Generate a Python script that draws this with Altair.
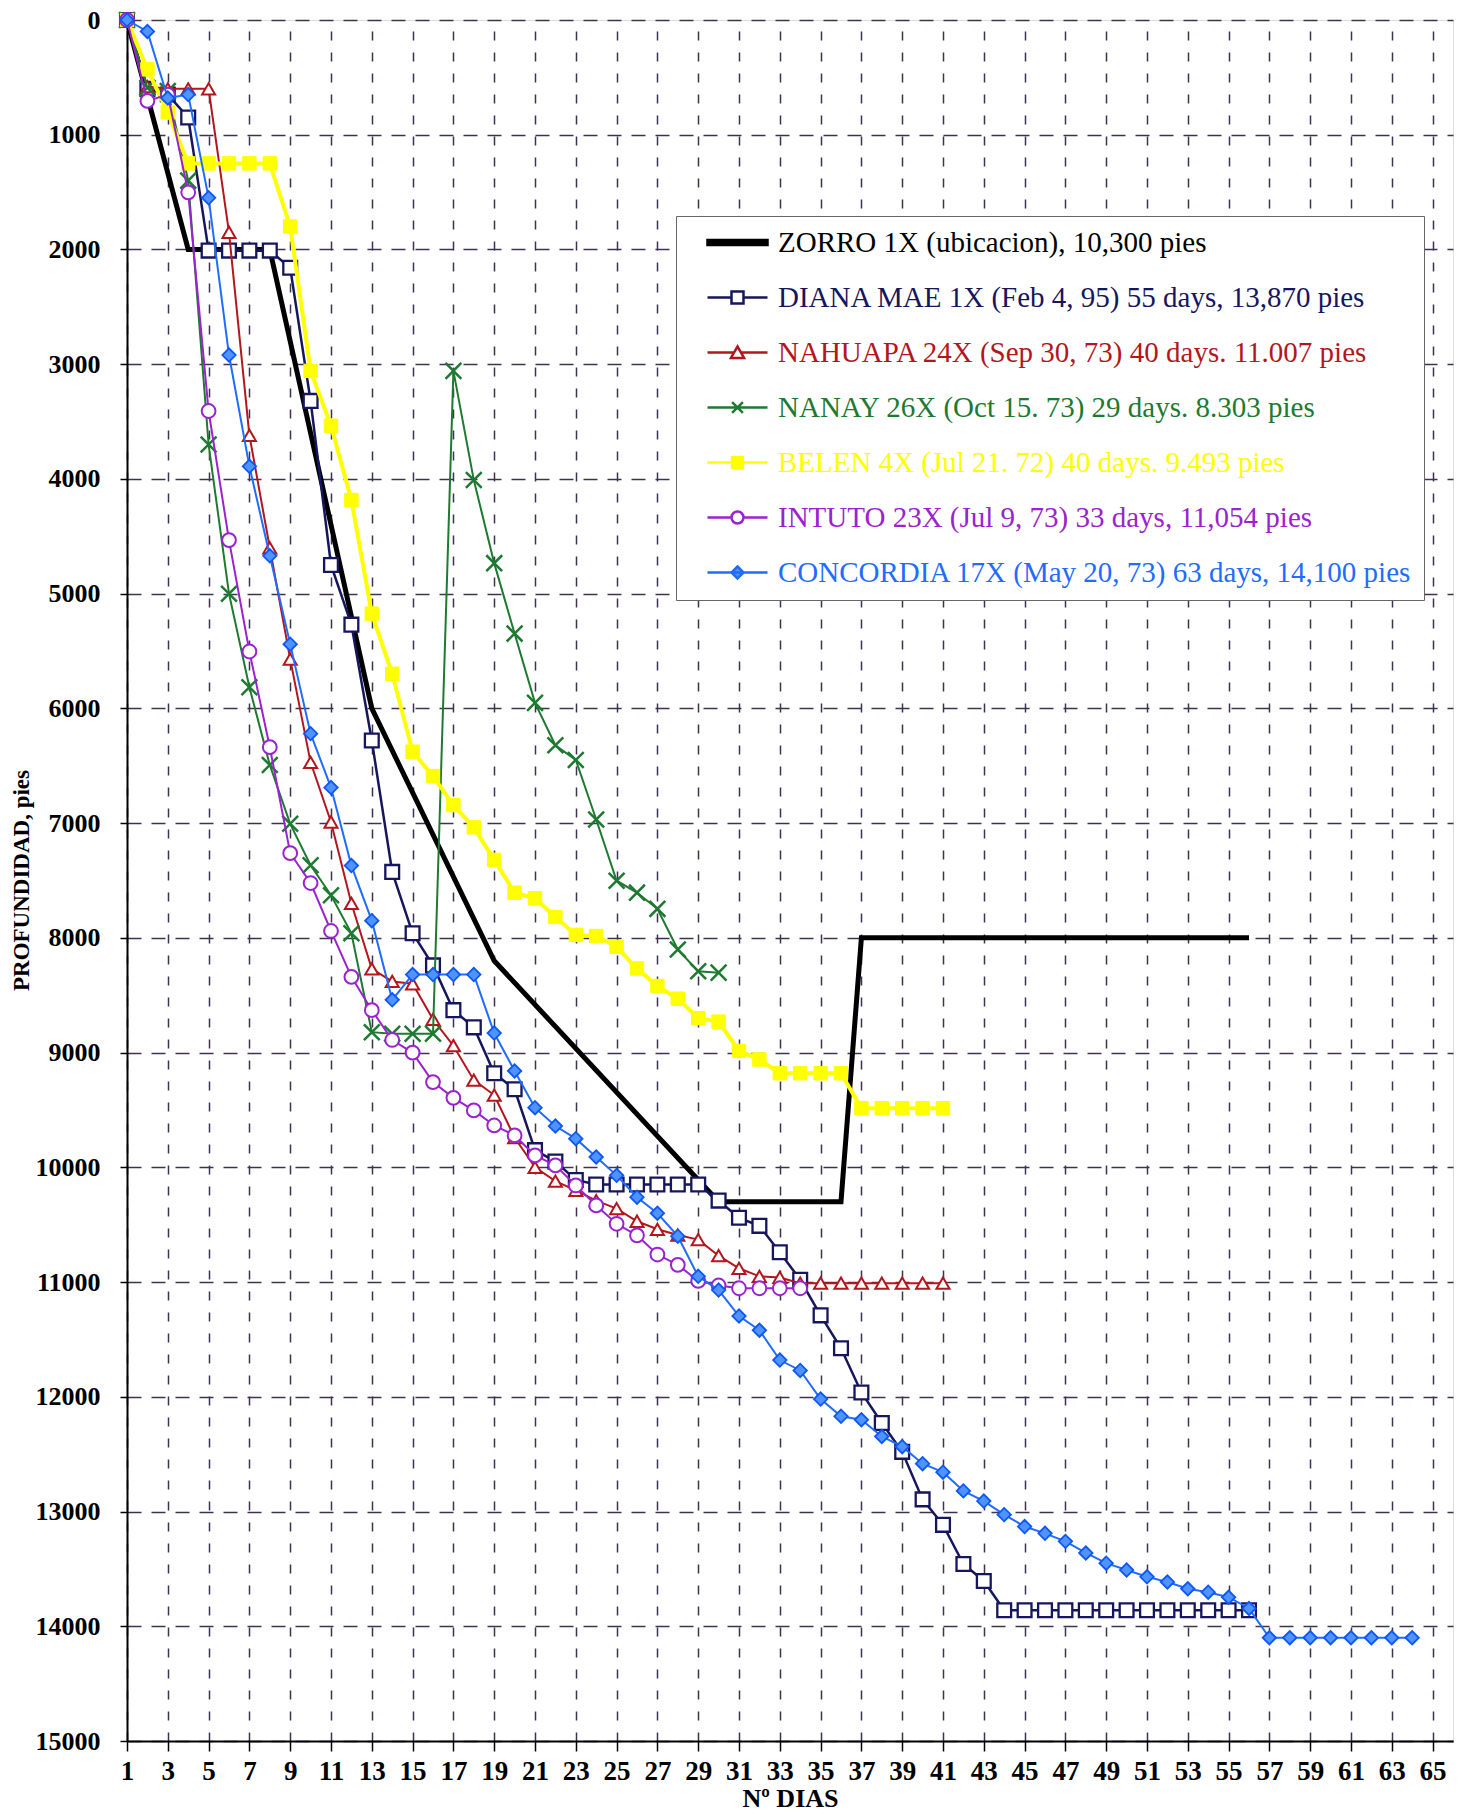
import altair as alt
import pandas as pd

# ---- series names (legend order) ----
SERIES = [
    "ZORRO 1X (ubicacion), 10,300 pies",
    "DIANA MAE 1X (Feb 4, 95) 55 days, 13,870 pies",
    "NAHUAPA 24X (Sep 30, 73) 40 days. 11.007 pies",
    "NANAY 26X (Oct 15. 73) 29 days. 8.303 pies",
    "BELEN 4X (Jul 21. 72) 40 days. 9.493 pies",
    "INTUTO 23X (Jul 9, 73) 33 days, 11,054 pies",
    "CONCORDIA 17X (May 20, 73) 63 days, 14,100 pies",
]

# ---- planned well: vertices of the curve (day, depth in ft) ----
ZORRO_DAYS = [1, 4, 8, 13, 19, 30, 36, 37, 56]
ZORRO_DEPTH = [0, 2000, 2000, 6000, 8200, 10300, 10300, 8000, 8000]

# ---- offset wells: depth (ft) reached each day, starting at day 1 ----
DIANA_DEPTH = [0, 600, 650, 850, 2010, 2010, 2010, 2010, 2160, 3320,
               4750, 5270, 6280, 7425, 7960, 8240, 8630, 8780, 9180, 9320,
               9850, 9950, 10110, 10150, 10150, 10150, 10150, 10150, 10150, 10290,
               10440, 10510, 10740, 10980, 11290, 11577, 11962, 12228, 12480, 12894,
               13116, 13457, 13605, 13860, 13860, 13860, 13860, 13860, 13860, 13860,
               13860, 13860, 13860, 13860, 13860, 13860]
NAHUAPA_DEPTH = [0, 580, 600, 600, 600, 1850, 3620, 4600, 5570, 6470,
                 6990, 7700, 8270, 8380, 8400, 8710, 8940, 9240, 9370, 9740,
                 10000, 10120, 10200, 10290, 10360, 10470, 10540, 10590, 10630, 10770,
                 10880, 10950, 10960, 11010, 11010, 11010, 11010, 11010, 11010, 11010,
                 11010]
NANAY_DEPTH = [0, 590, 620, 1400, 3700, 5000, 5815, 6494, 7006, 7367,
               7628, 7960, 8822, 8836, 8836, 8836, 3058, 4010, 4734, 5348,
               5952, 6321, 6449, 6968, 7502, 7606, 7747, 8102, 8291, 8303]
BELEN_DEPTH = [0, 430, 806, 1250, 1250, 1250, 1250, 1250, 1800, 3058,
               3536, 4184, 5174, 5698, 6377, 6590, 6843, 7037, 7320, 7606,
               7655, 7818, 7974, 7984, 8078, 8267, 8420, 8530, 8700, 8730,
               8985, 9060, 9180, 9180, 9180, 9180, 9485, 9485, 9485, 9485,
               9485]
INTUTO_DEPTH = [0, 705, 650, 1502, 3408, 4533, 5504, 6338, 7262, 7522,
                7940, 8340, 8630, 8890, 9000, 9257, 9394, 9504, 9635, 9722,
                9896, 9983, 10158, 10332, 10492, 10593, 10760, 10850, 10990, 11030,
                11054, 11054, 11054, 11054]
CONCORDIA_DEPTH = [0, 100, 680, 650, 1550, 2920, 3890, 4670, 5440, 6220,
                   6690, 7370, 7850, 8540, 8320, 8320, 8320, 8320, 8830, 9160,
                   9480, 9640, 9750, 9910, 10070, 10260, 10400, 10600, 10950, 11070,
                   11296, 11420, 11680, 11770, 12020, 12170, 12200, 12346, 12435, 12583,
                   12657, 12820, 12909, 13027, 13131, 13190, 13260, 13361, 13450, 13510,
                   13569, 13614, 13673, 13703, 13747, 13845, 14100, 14100, 14100, 14100,
                   14100, 14100, 14100, 14100]

X_TICKS = list(range(1, 66, 2))
Y_TICKS = list(range(0, 15001, 1000))

# ---- long table ----
frames = [pd.DataFrame({"serie": SERIES[0], "dia": ZORRO_DAYS, "prof": ZORRO_DEPTH})]
for name, depths in zip(SERIES[1:], [DIANA_DEPTH, NAHUAPA_DEPTH, NANAY_DEPTH,
                                     BELEN_DEPTH, INTUTO_DEPTH, CONCORDIA_DEPTH]):
    frames.append(pd.DataFrame({"serie": name,
                                "dia": list(range(1, len(depths) + 1)),
                                "prof": depths}))
df = pd.concat(frames, ignore_index=True)

# ---- styling ----
COLORS = ["#000000", "#16165e", "#b3161d", "#1d7a30", "#ffff00", "#9b22cf", "#1f6cff"]
LINE_W = [5, 2.5, 2, 2, 4, 2, 2]
X_PATH = "M-1,-1L1,1M-1,1L1,-1"
MARKERS = [
    None,
    dict(shape="square", size=190, filled=True, fill="white", stroke=COLORS[1], strokeWidth=2.3),
    dict(shape="triangle-up", size=170, filled=True, fill="white", stroke=COLORS[2], strokeWidth=2),
    dict(shape=X_PATH, size=250, filled=False, stroke=COLORS[3], strokeWidth=2.5),
    dict(shape="square", size=180, filled=True, fill=COLORS[4], stroke=COLORS[4], strokeWidth=1),
    dict(shape="circle", size=190, filled=True, fill="white", stroke=COLORS[5], strokeWidth=2),
    dict(shape="diamond", size=180, filled=True, fill="#4f93ff", stroke="#0d57f5", strokeWidth=1.8),
]

FONT = "Liberation Serif"

x_axis = alt.Axis(values=X_TICKS, format="d", labelFont=FONT, labelFontSize=27,
                  labelFontWeight="bold", labelColor="black", labelPadding=7,
                  labelFlush=False, labelOverlap=False,
                  tickSize=10, tickColor="black", tickWidth=1.5,
                  domainColor="black", domainWidth=2,
                  grid=True, gridColor="#3d3350", gridDash=[9, 12], gridWidth=1.5, gridOpacity=1,
                  title="Nº DIAS", titleFont=FONT, titleFontSize=26, titleFontWeight="bold",
                  titleColor="black", titlePadding=1)
y_axis = alt.Axis(values=Y_TICKS, format="d", labelFont=FONT, labelFontSize=26,
                  labelFontWeight="bold", labelColor="black", labelPadding=20,
                  labelFlush=False, labelOverlap=False,
                  tickSize=7, tickColor="black", tickWidth=1.5,
                  domainColor="black", domainWidth=2,
                  grid=True, gridColor="#3d3350", gridDash=[14, 10], gridWidth=1.5, gridOpacity=1,
                  title="PROFUNDIDAD, pies", titleFont=FONT, titleFontSize=23,
                  titleFontWeight="bold", titleColor="black", titleAngle=270,
                  titleX=-106, titleY=860, titleAlign="center", titleBaseline="middle")

x_enc = alt.X("dia:Q", scale=alt.Scale(domain=[1, 66], nice=False, zero=False), axis=x_axis)
y_enc = alt.Y("prof:Q", scale=alt.Scale(domain=[0, 15000], reverse=True, nice=False, zero=False),
              axis=y_axis)

layers = []
for name, color, lw, marker in zip(SERIES, COLORS, LINE_W, MARKERS):
    base = alt.Chart(df).transform_filter(alt.FieldEqualPredicate(field="serie", equal=name))
    layers.append(base.mark_line(color=color, strokeWidth=lw).encode(x=x_enc, y=y_enc))
    if marker:
        layers.append(base.mark_point(opacity=1, **marker).encode(x=x_enc, y=y_enc))

# ---- legend: line-through-marker symbols ----
LEG_SHAPES = [
    "M-2.5,-0.2H2.5V0.2H-2.5Z",
    "M-2.5,0H-0.5M0.5,0H2.5M-0.5,-0.5H0.5V0.5H-0.5Z",
    "M-2.5,0H-0.3M0.3,0H2.5M0,-0.5L0.55,0.45H-0.55Z",
    "M-2.5,0H2.5M-0.45,-0.45L0.45,0.45M-0.45,0.45L0.45,-0.45",
    "M-2.5,0H2.5M-0.45,-0.45H0.45V0.45H-0.45Z",
    "M-2.5,0H-0.5M0.5,0H2.5M-0.5,0A0.5,0.5 0 1,0 0.5,0A0.5,0.5 0 1,0 -0.5,0Z",
    "M-2.5,0H2.5M0,-0.5L0.5,0L0,0.5L-0.5,0Z",
]
LEG_FILLS = ["#000000", "white", "white", "transparent", "#ffff00", "white", "#4f93ff"]

label_color = " : ".join(f"datum.value === '{n}' ? '{c}'" for n, c in zip(SERIES, COLORS)) + " : 'black'"
legend = alt.Legend(title=None, orient="none", legendX=549, legendY=196,
                    padding=12, rowPadding=25, symbolSize=576, symbolStrokeWidth=2.5,
                    symbolOffset=35, labelOffset=26, symbolOpacity=1,
                    labelFont=FONT, labelFontSize=29, labelLimit=900,
                    labelColor={"expr": label_color},
                    strokeColor="#666666", fillColor="white")

legend_layer = alt.Chart(pd.DataFrame({"serie": SERIES})).transform_filter("false").mark_point(
    opacity=1, strokeWidth=2.5, filled=True
).encode(
    shape=alt.Shape("serie:N", scale=alt.Scale(domain=SERIES, range=LEG_SHAPES), legend=legend),
    stroke=alt.Stroke("serie:N", scale=alt.Scale(domain=SERIES, range=COLORS), legend=legend),
    fill=alt.Fill("serie:N", scale=alt.Scale(domain=SERIES, range=LEG_FILLS), legend=legend),
)
layers.append(legend_layer)

chart = alt.layer(*layers).properties(
    width=1326, height=1721,
    autosize=alt.AutoSizeParams(type="none"),
    padding={"left": 127, "top": 20, "right": 10, "bottom": 75},
    background="white",
).configure_view(stroke="black", strokeWidth=2).configure(font=FONT)

chart.save("out.html", embed_options={"renderer": "svg", "actions": False})
